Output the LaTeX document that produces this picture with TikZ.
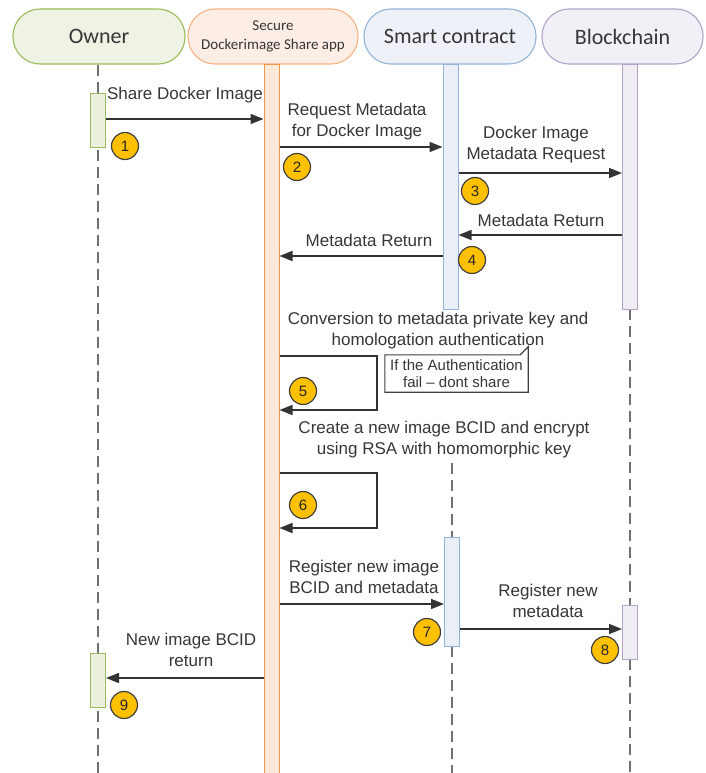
\documentclass[tikz,border=0pt]{standalone}
\usepackage{fontspec}
\setmainfont{Liberation Sans}
\newfontfamily\hfont{Carlito}
\usetikzlibrary{arrows.meta,calc}
\definecolor{txt}{HTML}{363636}
\definecolor{gbd}{HTML}{9BBB59}\definecolor{gfl}{HTML}{EBF1DE}\definecolor{ghf}{HTML}{EEF3E3}
\definecolor{obd}{HTML}{F79646}\definecolor{ofl}{HTML}{FDE9DA}\definecolor{ohb}{HTML}{F9B183}\definecolor{ohf}{HTML}{FDEEE5}
\definecolor{bbd}{HTML}{95B3D7}\definecolor{bfl}{HTML}{EAEFF7}\definecolor{bhf}{HTML}{EEF2F8}
\definecolor{pbd}{HTML}{B3A2C7}\definecolor{pfl}{HTML}{EFECF4}\definecolor{phf}{HTML}{F2F0F7}
\definecolor{gold}{HTML}{FFC000}
\definecolor{life}{HTML}{707070}
\tikzset{
  hdr/.style={draw, line width=1.1pt, rounded corners=27pt, minimum height=55pt, inner sep=0pt, text=txt, font=\hfont\fontsize{22}{24}\selectfont},
  actbar/.style={draw, line width=1pt, minimum width=15pt, inner sep=0pt, anchor=north},
  lifeline/.style={draw=life, line width=2pt, dash pattern=on 11pt off 6pt},
  msg/.style={draw=black!80, line width=1.6pt, -{Triangle[length=13pt,width=10pt]}},
  lbl/.style={text=txt, align=center, inner sep=0pt, font=\fontsize{17}{21}\selectfont},
  num/.style={circle, draw=black!75, line width=1.2pt, fill=gold, minimum size=27pt, inner sep=0pt, text=black!85, font=\fontsize{15}{15}\selectfont},
  notetext/.style={text=txt, align=center, inner sep=0pt, minimum width=143pt, minimum height=37pt, font=\fontsize{15}{17}\selectfont},
}
\begin{document}
\begin{tikzpicture}[x=1pt,y=-1pt]
\useasboundingbox (0,0) rectangle (705,773);
% headers
\node[hdr, draw=gbd, fill=ghf, minimum width=172pt] (own) at (99,36.5) {Owner};
\node[hdr, draw=ohb, fill=ohf, minimum width=170pt, align=center, font=\hfont\fontsize{15}{19}\selectfont] (app) at (273,36.5) {Secure\\Dockerimage Share app};
\node[hdr, draw=bbd, fill=bhf, minimum width=172pt] (sc) at (450,36.5) {Smart contract};
\node[hdr, draw=pbd, fill=phf, minimum width=161pt] (bc) at (622.5,36.5) {Blockchain};
% lifelines
\coordinate (bot1) at (98,773);
\draw[lifeline] (own.south -| bot1) -- (bot1);
\coordinate (scd1) at (452,463);
\coordinate (scd2) at (452,537);
\coordinate (scd3) at (452,646);
\coordinate (scd4) at (452,773);
\draw[lifeline] (scd1) -- (scd2);
\draw[lifeline] (scd3) -- (scd4);
\coordinate (bcd1) at (630,309);
\coordinate (bcd2) at (630,605);
\coordinate (bcd3) at (630,659);
\coordinate (bcd4) at (630,773);
\draw[lifeline] (bcd1) -- (bcd2);
\draw[lifeline] (bcd3) -- (bcd4);
% activation bars
\node[actbar, draw=gbd, fill=gfl, minimum height=54pt] (ob1) at (98,93) {};
\node[actbar, draw=gbd, fill=gfl, minimum height=54pt] (ob2) at (98,653) {};
\node[actbar, draw=obd, fill=ofl, minimum height=715pt] (ab) at (271.5,64) {};
\node[actbar, draw=bbd, fill=bfl, minimum height=245pt] (sb1) at (450.5,64) {};
\node[actbar, draw=bbd, fill=bfl, minimum height=109pt] (sb2) at (452,537) {};
\node[actbar, draw=pbd, fill=pfl, minimum height=245pt] (pb1) at (630,64) {};
\node[actbar, draw=pbd, fill=pfl, minimum height=54pt] (pb2) at (630,605) {};
% y levels
\coordinate (y1) at (0,119);
\coordinate (y2) at (0,147);
\coordinate (y3) at (0,173);
\coordinate (y4a) at (0,235);
\coordinate (y4b) at (0,256);
\coordinate (y7) at (0,604);
\coordinate (y8) at (0,629);
\coordinate (y9) at (0,678);
% messages
\draw[msg] (ob1.east |- y1) -- (ab.west |- y1);
\node[lbl] (t1) at (185,95) {Share Docker Image};
\node[num] (n1) at (125,146) {1};

\draw[msg] (ab.east |- y2) -- (sb1.west |- y2);
\node[lbl] (t2) at (357,122) {Request Metadata\\for Docker Image};
\node[num] (n2) at (297,167) {2};

\draw[msg] (sb1.east |- y3) -- (pb1.west |- y3);
\node[lbl] (t3) at (536,144.5) {Docker Image\\Metadata Request};
\node[num] (n3) at (475,191) {3};

\draw[msg] (pb1.west |- y4a) -- (sb1.east |- y4a);
\node[lbl] (t4a) at (541,220) {Metadata Return};
\node[num] (n4) at (472,260) {4};

\draw[msg] (sb1.west |- y4b) -- (ab.east |- y4b);
\node[lbl] (t4b) at (369,240) {Metadata Return};

% self loop 5
\node[lbl] (t5) at (438,330.5) {Conversion to metadata private key and\\homologation authentication};
\coordinate (l5a) at (377,356);
\coordinate (l5b) at (377,410);
\draw[msg] (ab.east |- l5a) -- (l5a) -- (l5b) -- (ab.east |- l5b);
\node[num] (n5) at (303,391) {5};
\node[notetext] (note) at (456.5,373.5) {If the Authentication\\fail -- dont share};
\draw[draw=black!75, line width=1.1pt] (note.north west) -- ([xshift=-8pt]note.north east) -- ([yshift=8pt]note.north east) -- (note.south east) -- (note.south west) -- cycle;

% self loop 6
\node[lbl] (t6) at (444,439.5) {Create a new image BCID and encrypt\\using RSA with homomorphic key};
\coordinate (l6a) at (377,473);
\coordinate (l6b) at (377,528);
\draw[msg] (ab.east |- l6a) -- (l6a) -- (l6b) -- (ab.east |- l6b);
\node[num] (n6) at (303,505) {6};

\draw[msg] (ab.east |- y7) -- (sb2.west |- y7);
\node[lbl] (t7) at (364,576.5) {Register new image\\BCID and metadata};
\node[num] (n7) at (427,632) {7};

\draw[msg] (sb2.east |- y8) -- (pb2.west |- y8);
\node[lbl] (t8) at (548,601) {Register new\\metadata};
\node[num] (n8) at (605,650) {8};

\draw[msg] (ab.west |- y9) -- (ob2.east |- y9);
\node[lbl] (t9) at (191,650) {New image BCID\\return};
\node[num] (n9) at (124,705) {9};
\end{tikzpicture}
\end{document}
